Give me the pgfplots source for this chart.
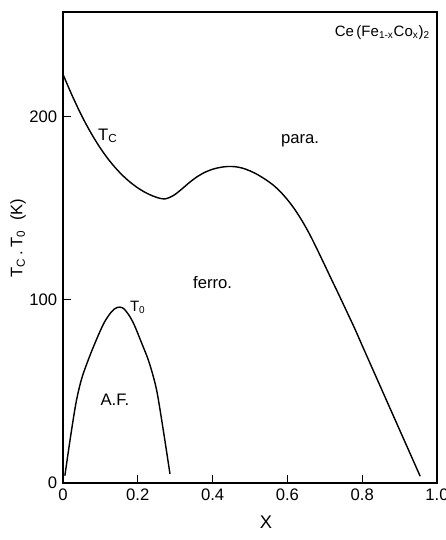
\documentclass[border=0pt]{standalone}
\usepackage{pgfplots}
\pgfplotsset{compat=1.18}
\usepackage{fontspec}
\setmainfont{Liberation Sans}
\begin{document}
\begin{tikzpicture}
\begin{axis}[
  scale only axis, width=224.4pt, height=282.6pt,
  xmin=0, xmax=1, ymin=0, ymax=257,
  axis line style={line width=1pt},
  /pgf/number format/assume math mode=true,
  xtick={0,0.2,0.4,0.6,0.8,1.0}, xticklabels={0,0.2,0.4,0.6,0.8,1.0},
  ytick={0,100,200}, yticklabels={0,100,200},
  tick align=inside, xtick pos=bottom, ytick pos=left,
  major tick length=5pt, tick style={line width=0.8pt, black},
  ticklabel style={font=\fontsize{10}{12}\selectfont},
  xlabel={X},
  xlabel style={font=\fontsize{11}{13}\selectfont, at={(axis description cs:0.543,-0.083)}, anchor=center},
  ylabel={T\textsubscript{C}\,.\,T\textsubscript{0}\ \ (K)},
  ylabel style={font=\fontsize{10}{12}\selectfont, at={(axis description cs:-0.12,0.52)}, anchor=center, rotate=0},
  clip=false,
]
\addplot[black, line width=0.85pt, smooth] coordinates {
 (0,223) (0.02,213.45) (0.04,204.57) (0.06,196.45) (0.08,189.19) (0.10,182.70) (0.12,176.97)
 (0.14,172.00) (0.16,167.70) (0.18,164.07) (0.20,161.01) (0.22,158.53) (0.24,156.62) (0.26,155.28) (0.273,155)
};
\addplot[black, line width=0.85pt, smooth] coordinates {
 (0.273,155) (0.285,155.8) (0.30,157.5) (0.32,160.8) (0.34,164.3) (0.36,167.3) (0.38,169.6)
 (0.40,171.2) (0.42,172.2) (0.44,172.7) (0.46,172.6) (0.48,171.8) (0.50,170.3) (0.52,168.3)
 (0.54,165.8) (0.56,162.9) (0.58,159.2) (0.60,154.6) (0.62,149.2) (0.64,142.8) (0.66,135.5)
 (0.68,127.3) (0.70,118.8) (0.72,110.2) (0.74,101.7) (0.76,93) (0.78,84.3) (0.80,75.0)
 (0.82,65.8) (0.84,56.6) (0.86,47.4) (0.88,38.2) (0.90,29) (0.92,19.8) (0.94,10.6) (0.955,3.7)
};
\addplot[black, line width=0.85pt, smooth] coordinates {
 (0.005,4) (0.02,25) (0.035,44) (0.05,57) (0.07,68.5) (0.09,78.5) (0.11,87.5) (0.13,93.5) (0.145,95.8)
 (0.16,95.5) (0.175,92) (0.19,86.5) (0.21,76.5) (0.23,66) (0.25,51) (0.268,29) (0.286,5)
};
\node[font=\fontsize{10}{12}\selectfont] at (axis cs:0.12,189.5) {T\textsubscript{C}};
\node[font=\fontsize{9}{11}\selectfont] at (axis cs:0.20,96) {T\textsubscript{0}};
\node[font=\fontsize{10}{12}\selectfont] at (axis cs:0.139,45.5) {A.F.};
\node[font=\fontsize{10}{12}\selectfont] at (axis cs:0.40,109.6) {ferro.};
\node[font=\fontsize{10}{12}\selectfont] at (axis cs:0.634,187) {para.};
\node[font=\fontsize{9}{11}\selectfont, anchor=north east, inner sep=1pt] at (axis description cs:0.987,0.975) {Ce\,(Fe\textsubscript{1-x}Co\textsubscript{x})\textsubscript{2}};
\end{axis}
\pgfresetboundingbox
\path ([shift={(-37.8pt,-34.2pt)}]current axis.south west) rectangle ([shift={(5.4pt,7.2pt)}]current axis.north east);
\end{tikzpicture}
\end{document}
